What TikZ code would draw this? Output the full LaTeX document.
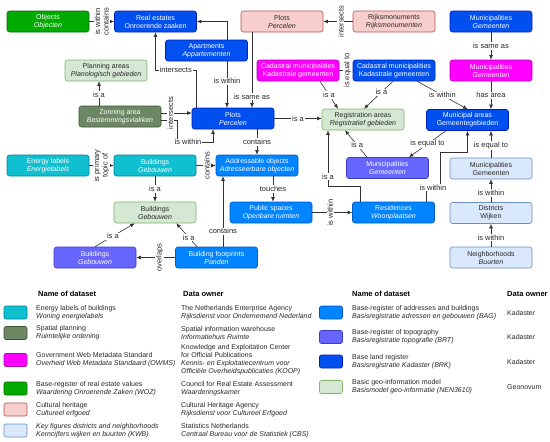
\documentclass[tikz,border=0pt]{standalone}
\usepackage{fontspec}
\setmainfont{Liberation Sans}
\usetikzlibrary{calc,arrows.meta}
\definecolor{wozfill}{RGB}{0,170,0}\definecolor{wozline}{RGB}{0,110,0}
\definecolor{brkfill}{HTML}{0050EF}\definecolor{brkline}{HTML}{001DBC}
\definecolor{bagfill}{RGB}{0,132,255}\definecolor{bagline}{RGB}{0,90,200}
\definecolor{brtfill}{RGB}{102,102,255}\definecolor{brtline}{RGB}{60,60,200}
\definecolor{owmsfill}{RGB}{255,0,255}\definecolor{owmsline}{RGB}{180,0,180}
\definecolor{enfill}{RGB}{16,192,208}\definecolor{enline}{RGB}{0,130,150}
\definecolor{rofill}{HTML}{6D8764}\definecolor{roline}{HTML}{3A5431}
\definecolor{cultfill}{HTML}{F8CECC}\definecolor{cultline}{HTML}{B85450}
\definecolor{kwbfill}{HTML}{DAE8FC}\definecolor{kwbline}{HTML}{6C8EBF}
\definecolor{nenfill}{HTML}{D5E8D4}\definecolor{nenline}{HTML}{82B366}
\definecolor{linegray}{RGB}{51,51,51}
\definecolor{txtgray}{RGB}{40,40,40}

\begin{document}
\begin{tikzpicture}[x=1pt,y=1pt,every node/.style={inner sep=1pt},
  box/.style={draw,rounded corners=2.5pt,minimum width=82pt,minimum height=21pt,
    align=center,line width=0.6pt,font=\fontsize{7}{8}\selectfont},
  woz/.style={box,fill=wozfill,draw=wozline,text=white},
  brk/.style={box,fill=brkfill,draw=brkline,text=white},
  bag/.style={box,fill=bagfill,draw=bagline,text=white},
  brt/.style={box,fill=brtfill,draw=brtline,text=white},
  owms/.style={box,fill=owmsfill,draw=owmsline,text=white},
  energy/.style={box,fill=enfill,draw=enline,text=white},
  ro/.style={box,fill=rofill,draw=roline,text=white},
  cult/.style={box,fill=cultfill,draw=cultline,text=txtgray},
  kwb/.style={box,fill=kwbfill,draw=kwbline,text=txtgray},
  nen/.style={box,fill=nenfill,draw=nenline,text=txtgray},
  lnk/.style={draw=linegray,line width=0.6pt,-{Latex[length=4.5pt,width=3.8pt]}},
  lab/.style={fill=white,text=txtgray,inner sep=0.8pt,align=center,
    font=\fontsize{7.5}{8.5}\selectfont},
  swatch/.style={draw,rounded corners=2pt,minimum width=23pt,minimum height=13pt,
    line width=0.6pt},
  legtext/.style={anchor=west,align=left,text=txtgray,inner sep=0pt,
    font=\fontsize{7}{8}\selectfont},
  head/.style={anchor=west,inner sep=0pt,font=\bfseries\fontsize{7.5}{9}\selectfont}]
  \fill [white] (0,0) rectangle (550,-442);
  \useasboundingbox (0,0) rectangle (550,-442);

  % datasets
  \node [woz] (objects) at (48,-21.5) {Objects\\\textit{Objecten}};
  \node [brk] (realest) at (155.5,-21.5) {Real estates\\Onroerende zaaken};
  \node [brk] (apart) at (206.5,-50.5) {Apartments\\\textit{Appartementen}};
  \node [cult] (plotscult) at (282,-21.5) {Plots\\\textit{Percelen}};
  \node [cult] (rijks) at (394,-21.5) {Rijksmonuments\\\textit{Rijksmonumenten}};
  \node [brk] (gembrk) at (491,-21.5) {Municipalities\\\textit{Gemeenten}};
  \node [owms] (gemowms) at (491,-70.5) {Municipalities\\\textit{Gemeenten}};
  \node [owms] (kadowms) at (298,-70.5) {Cadastral municipalities\\Kadastrale gemeenten};
  \node [brk] (kadbrk) at (394,-70.5) {Cadastral municipalities\\Kadastrale gemeenten};
  \node [nen] (planning) at (106,-70.5) {Planning areas\\\textit{Planologisch gebieden}};
  \node [ro] (zoning) at (120,-116.5) {Zonning area\\\textit{Bestemmingsvlakken}};
  \node [brk] (plots) at (233,-118.5) {Plots\\\textit{Percelen}};
  \node [nen] (regareas) at (363,-119.5) {Registration areas\\\textit{Registratief gebieden}};
  \node [brk] (munareas) at (467.5,-120) {Municipal areas\\Gemeentegebieden};
  \node [energy] (labels) at (48,-165.5) {Energy labels\\\textit{Energielabels}};
  \node [energy] (bldenergy) at (155,-165.5) {Buildings\\\textit{Gebouwen}};
  \node [bag] (addr) at (257,-165.5) {Addressable objects\\\textit{Adresseerbare objecten}};
  \node [brt] (gembrt) at (387.5,-168) {Municipalities\\\textit{Gemeenten}};
  \node [kwb] (gemkwb) at (491,-168.5) {Municipalities\\Gemeenten};
  \node [nen] (bldnen) at (155,-212.5) {Buildings\\\textit{Gebouwen}};
  \node [bag] (pubspace) at (271,-212.5) {Public spaces\\\textit{Openbare ruimten}};
  \node [bag] (resid) at (393.5,-212.5) {Residences\\\textit{Woonplaatsen}};
  \node [kwb] (districts) at (491,-213) {Districts\\Wijken};
  \node [brt] (bldbrt) at (95,-257.5) {Buildings\\\textit{Gebouwen}};
  \node [bag] (panden) at (216.5,-257.5) {Building footprints\\\textit{Panden}};
  \node [kwb] (hoods) at (491,-257.5) {Neighborhoods\\\textit{Buurten}};

  % relations
  \draw [lnk] (objects) -- node [lab,rotate=90] {is within\\contains} (realest);
  \draw [lnk] ([xshift=20.5]apart.north) |- (realest.east);
  \draw [lnk] ([xshift=20.5]apart.south) --
    node [lab,pos=0.43] {is within} ([xshift=20.5]apart.south |- plots.north);
  \draw [lnk] ([xshift=-37]plots.north) |-
    node [lab,pos=0.75] {intersects} ([yshift=-38]realest.south) -- (realest.south);
  \draw [lnk] ([xshift=-30]plotscult.south) --
    node [lab,pos=0.85] {is same as} ([xshift=-30]plotscult.south |- plots.north);
  \draw [lnk] (rijks) -- node [lab,rotate=90,pos=0.4] {intersects} (plotscult);
  \draw [lnk] (kadowms) -- node [lab,rotate=90,pos=0.6] {is equal to} (kadbrk);
  \draw [lnk] ([xshift=22]kadowms.south) -- node [lab] {is a} ([xshift=-25]regareas.north);
  \draw [lnk] ([xshift=-1]kadbrk.south) -- node [lab,pos=0.4] {is a} ([xshift=1]regareas.north);
  \draw [lnk] ([xshift=-18]kadbrk.south east) -- node [lab] {is within} (munareas.north);
  \draw [lnk] (gembrk) -- node [lab] {is same as} (gemowms);
  \draw [lnk] (gemowms.south) -- node [lab] {has area} (gemowms.south |- munareas.north);
  \draw [lnk] (plots.east) -- node [lab] {is a} (plots.east -| regareas.west);
  \draw [lnk] ([xshift=-21.5]munareas.south) -- node [lab] {is equal to} ([xshift=21.5]gembrt.north);
  \draw [lnk] (gemkwb.north) -- node [lab,pos=0.45] {is equal to} (gemkwb.north |- munareas.south);
  \draw [lnk] ([xshift=-20.5]gembrt.north) -- node [lab,pos=0.45] {is a} ([xshift=-18]regareas.south);
  \draw [lnk] ([xshift=-33.5]resid.north) -- ++(0,15) -|
    node [lab,pos=0.59] {is a} ([xshift=-35]regareas.south);
  \draw [lnk] ([xshift=32.5]resid.north) -- ++(0,14) --
    node [lab] {is within} ++(14,0) -- ++(0,35) -| (munareas.south);
  \draw [lnk] (pubspace) -- node [lab,rotate=90,pos=0.45] {is within} (resid);
  \draw [lnk] (districts) -- node [lab,pos=0.4] {is within} (gemkwb);
  \draw [lnk] (hoods) -- node [lab,pos=0.4] {is within} (districts);
  \draw [lnk] ([xshift=24]plots.south) -- node [lab] {contains} (addr.north);
  \draw [lnk] ([xshift=16]addr.south) -- node [lab] {touches} ([xshift=2]pubspace.north);
  \draw [lnk] (bldenergy) -- node [lab,rotate=90,pos=0.55] {contains} (addr);
  \draw [lnk] (labels) -- node [lab,rotate=90] {is primary\\topic of} (bldenergy);
  \draw [lnk] (bldenergy) -- node [lab] {is a} (bldnen);
  \draw [lnk] (bldbrt.north) -- node [lab,pos=0.45] {is a} ([xshift=21]bldnen.south west);
  \draw [lnk] ([xshift=-19.5]panden.north) -- node [lab,pos=0.4] {is a} ([xshift=-20]bldnen.south east);
  \draw [lnk] ([xshift=6.5]panden.north) --
    node [lab,pos=0.22] {contains} ([xshift=6.5]panden.north |- addr.south);
  \draw [lnk] (panden) -- node [lab,rotate=90,pos=0.4] {overlaps} (bldbrt);
  \draw [lnk] (zoning.north -| 99,0) -- node [lab,pos=0.45] {is a} (planning.south -| 99,0);
  \draw [lnk] ([yshift=-3.5]zoning.east) -- ++(16,0) |-
    node [lab,pos=0.65] {is within} ([xshift=-20,yshift=-13]plots.south) -- ([xshift=-20]plots.south);
  \draw [lnk] ([yshift=3.5]zoning.east) --
    node [lab,rotate=90,pos=0.3] {intersects} ([yshift=3.5]zoning.east -| plots.west);

  % legend
  \node [head] (hname) at (38,-294) {Name of dataset};
  \node [head] (howner) at (183,-294) {Data owner};
  \node [head] (hname2) at (352,-294) {Name of dataset};
  \node [head] (howner2) at (507,-294) {Data owner};

  \node [swatch,fill=enfill,draw=enline] (s1) at (15.5,-312.5) {};
  \node [legtext] at (36,-312.5) {Energy labels of buildings\\\textit{Woning energielabels}};
  \node [legtext] at (181,-312.5) {The Netherlands Enterprise Agency\\\textit{Rijksdienst voor Ondernemend Nederland}};
  \node [swatch,fill=rofill,draw=roline] (s2) at (15.5,-333) {};
  \node [legtext] at (36,-333) {Spatial planning\\\textit{Ruimtelijke ordening}};
  \node [legtext] at (181,-333) {Spatial information warehouse\\\textit{Informatiehuis Ruimte}};
  \node [swatch,fill=owmsfill,draw=owmsline] (s3) at (15.5,-360) {};
  \node [legtext] at (36,-360) {Government Web Metadata Standard\\\textit{Overheid Web Metadata Standaard (OWMS)}};
  \node [legtext] at (181,-360) {Knowledge and Exploitation Center\\for Official Publications\\
    \textit{Kennis- en Exploitatiecentrum voor}\\\textit{Officiële Overheidspublicaties (KOOP)}};
  \node [swatch,fill=wozfill,draw=wozline] (s4) at (15.5,-388.5) {};
  \node [legtext] at (36,-388.5) {Base-register of real estate values\\\textit{Waardering Onroerende Zaken (WOZ)}};
  \node [legtext] at (181,-388.5) {Council for Real Estate Assessment\\\textit{Waarderingskamer}};
  \node [swatch,fill=cultfill,draw=cultline] (s5) at (15.5,-409.5) {};
  \node [legtext] at (36,-409.5) {Cultural heritage\\\textit{Cultureel erfgoed}};
  \node [legtext] at (181,-409.5) {Cultural Heritage Agency\\\textit{Rijksdienst voor Cultureel Erfgoed}};
  \node [swatch,fill=kwbfill,draw=kwbline] (s6) at (15.5,-430.5) {};
  \node [legtext] at (36,-430.5) {\textit{Key figures districts and neighborhoods}\\\textit{Kerncijfers wijken en buurten (KWB)}};
  \node [legtext] at (181,-430.5) {Statistics Netherlands\\\textit{Centraal Bureau voor de Statistiek (CBS)}};

  \node [swatch,fill=bagfill,draw=bagline] (s7) at (331,-312.5) {};
  \node [legtext] at (352,-312.5) {Base-register of addresses and buildings\\\textit{Basisregistratie adressen en gebouwen (BAG)}};
  \node [legtext] at (507,-312.5) {Kadaster};
  \node [swatch,fill=brtfill,draw=brtline] (s8) at (331,-337) {};
  \node [legtext] at (352,-337) {Base-register of topography\\\textit{Basisregistratie topografie (BRT)}};
  \node [legtext] at (507,-337) {Kadaster};
  \node [swatch,fill=brkfill,draw=brkline] (s9) at (331,-361.5) {};
  \node [legtext] at (352,-361.5) {Base land register\\\textit{Basisregistratie Kadaster (BRK)}};
  \node [legtext] at (507,-361.5) {Kadaster};
  \node [swatch,fill=nenfill,draw=nenline] (s10) at (331,-387) {};
  \node [legtext] at (352,-387) {Basic geo-information model\\\textit{Basismodel geo-informatie (NEN3610)}};
  \node [legtext] at (507,-387) {Geonovum};
\end{tikzpicture}
\end{document}
